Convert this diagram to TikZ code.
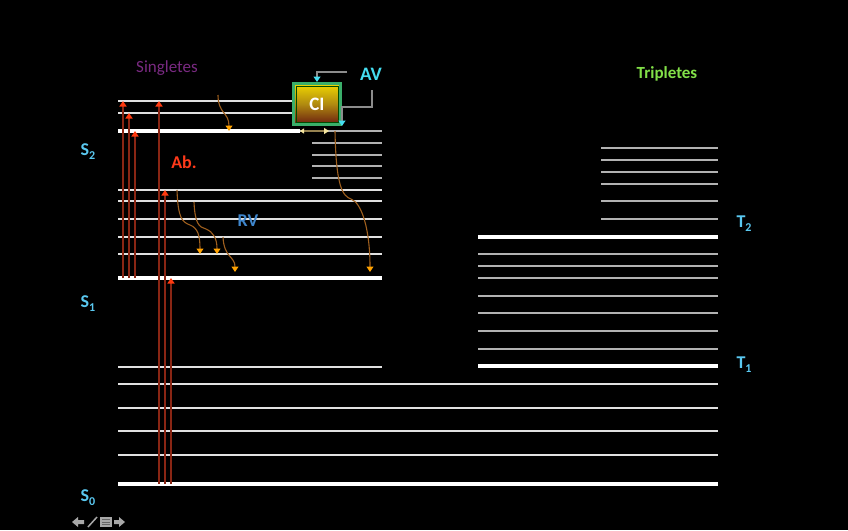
\documentclass[tikz,border=0pt]{standalone}
\usepackage{fontspec}
\setmainfont{Carlito}
\usetikzlibrary{arrows.meta}
\definecolor{lvlblue}{HTML}{5AC8F0}
\definecolor{avcyan}{HTML}{45DDF0}
\definecolor{singl}{HTML}{7A2A82}
\definecolor{tripl}{HTML}{82E048}
\definecolor{abred}{HTML}{FF3A1A}
\definecolor{rvblue}{HTML}{3F86CC}
\definecolor{absline}{HTML}{8A2614}
\definecolor{abstip}{HTML}{FF3A10}
\definecolor{relaxline}{HTML}{A0601E}
\definecolor{relaxtip}{HTML}{FFA200}
\definecolor{cigreen}{HTML}{3AAE6A}
\definecolor{citop}{HTML}{F0D800}
\definecolor{cimid}{HTML}{B08A10}
\definecolor{cibot}{HTML}{6A1E10}
\definecolor{icline}{HTML}{968250}
\definecolor{ictip}{HTML}{F5E6A0}
\definecolor{navgray}{HTML}{A8A8A8}
\newcommand{\lvlname}[2]{#1\raisebox{-0.45ex}{\fontsize{12}{12}\selectfont #2}}
\begin{document}
\begin{tikzpicture}[x=1pt,y=-1pt,
  lvl/.style={draw=white!88!black,line width=1.4pt},
  lvlgray/.style={draw=white!70!black,line width=1.4pt},
  thicklvl/.style={draw=white,line width=3.6pt},
  absorb/.style={draw=absline,line width=1.5pt,-{Triangle[length=5.5pt,width=7pt,color=abstip]}},
  relax/.style={draw=relaxline,line width=1.1pt,-{Triangle[length=5.5pt,width=7pt,color=relaxtip]}},
  avline/.style={draw=white!55!black,line width=1.2pt,-{Triangle[length=5.5pt,width=7pt,color=avcyan]}},
  stlabel/.style={text=lvlblue,font=\bfseries\fontsize{18}{18}\selectfont,inner sep=0pt},
  navicon/.style={fill=navgray,draw=none}]
\useasboundingbox[fill=black] (0,0) rectangle (848,530);

% ---- singlet levels ----
\draw[lvl] (118,101) -- (293,101);
\draw[lvl] (118,113) -- (293,113);
\draw[thicklvl] (118,131) -- (300,131);
\draw[lvlgray] (300,131) -- (382,131);
\foreach \y in {143,155,166,178} \draw[lvlgray] (312,\y) -- (382,\y);
\foreach \y in {190,201,219,237,254} \draw[lvl] (118,\y) -- (382,\y);
\draw[thicklvl] (118,278) -- (382,278);
\draw[lvl] (118,367) -- (382,367);
\foreach \y in {384,408,431,455} \draw[lvl] (118,\y) -- (718,\y);
\draw[thicklvl] (118,484) -- (718,484);

% ---- triplet levels ----
\foreach \y in {148,160,172,184,201,219} \draw[lvlgray] (601,\y) -- (718,\y);
\draw[thicklvl] (478,237) -- (718,237);
\foreach \y in {254,266,278,296,313,331,349} \draw[lvlgray] (478,\y) -- (718,\y);
\draw[thicklvl] (478,366) -- (718,366);

% ---- labels ----
\node[stlabel] (S2) at (88,152) {\lvlname{S}{2}};
\node[stlabel] (S1) at (88,304) {\lvlname{S}{1}};
\node[stlabel] (S0) at (88,498) {\lvlname{S}{0}};
\node[stlabel] (T2) at (744,224) {\lvlname{T}{2}};
\node[stlabel] (T1) at (744,365) {\lvlname{T}{1}};
\node[text=singl,font=\fontsize{17}{17}\selectfont,inner sep=0pt] (sing) at (167,68) {Singletes};
\node[text=tripl,font=\bfseries\fontsize{17}{17}\selectfont,inner sep=0pt] (trip) at (667,74) {Tripletes};
\node[text=abred,font=\bfseries\fontsize{18}{18}\selectfont,inner sep=0pt] (ab) at (184,162) {Ab.};
\node[text=rvblue,font=\bfseries\fontsize{18}{18}\selectfont,inner sep=0pt] (rv) at (248,221) {RV};
\node[text=avcyan,font=\bfseries\fontsize{19}{19}\selectfont,inner sep=0pt] (AV) at (371,74) {AV};

% ---- CI box ----
\node[draw=cigreen,line width=3pt,minimum width=47pt,minimum height=41pt,
  top color=citop,bottom color=cibot,middle color=cimid,
  text=white,font=\bfseries\fontsize{19}{19}\selectfont,inner sep=0pt] (CI) at (317,104) {CI};
\draw[draw=green!30!black,line width=0.8pt] (296,86) rectangle (338,122);

% ---- AV connectors ----
\coordinate (av1) at (347,72);
\coordinate (av2) at (372,90);
\coordinate (av3) at (342,126);
\draw[avline] (av1) -| (CI.north);
\draw[avline] (av2) |- (342,107) -- (av3);

% ---- IC horizontal arrow ----
\coordinate (ic1) at (300,131);
\coordinate (ic2) at (329,131);
\draw[draw=icline,line width=1.3pt,{Triangle[length=4pt,width=5pt,color=ictip]}-{Triangle[length=5pt,width=6pt,color=ictip]}] (ic1) -- (ic2);

% ---- absorption arrows ----
\draw[absorb] (123,278) -- (123,101);
\draw[absorb] (129,278) -- (129,113);
\draw[absorb] (135,278) -- (135,131);
\draw[absorb] (159,484) -- (159,101);
\draw[absorb] (165,484) -- (165,190);
\draw[absorb] (171,484) -- (171,278);

% ---- vibrational relaxation ----
\draw[relax] (218,95) .. controls (218,114) and (229,112) .. (229,131);
\draw[relax] (177,190) .. controls (178,218) and (182,222) .. (190,225) .. controls (198,228) and (200,236) .. (200,254);
\draw[relax] (194,202) .. controls (195,224) and (199,227) .. (206,229) .. controls (213,232) and (217,238) .. (217,254);
\draw[relax] (223,237) .. controls (224,258) and (235,256) .. (235,272);
\draw[relax] (335,131) .. controls (336,188) and (343,196) .. (351,199) .. controls (362,203) and (370,230) .. (370,272);

% ---- slide navigation icons ----
\fill[navicon] (72,522) -- (78,517) -- (78,520) -- (84,520) -- (84,524) -- (78,524) -- (78,527) -- cycle;
\draw[navgray,line width=1.5pt] (88,527) -- (97,517);
\fill[navicon] (100,517) rectangle (112,527);
\foreach \yy in {519.5,522,524.5} \draw[black!60,line width=0.5pt] (102,\yy) -- (110,\yy);
\fill[navicon] (125,522) -- (119,517) -- (119,520) -- (114,520) -- (114,524) -- (119,524) -- (119,527) -- cycle;
\end{tikzpicture}
\end{document}
